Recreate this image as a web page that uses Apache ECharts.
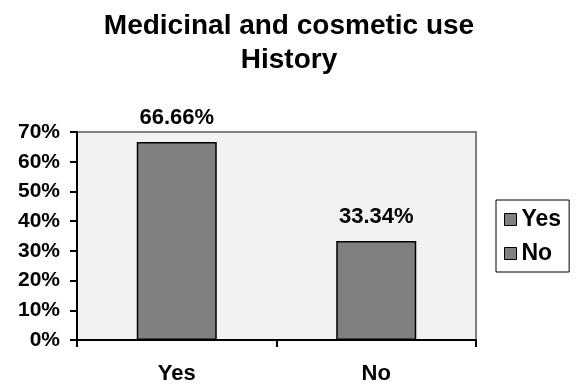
<!DOCTYPE html>
<html>
<head>
<meta charset="utf-8">
<script src="https://cdn.jsdelivr.net/npm/echarts@6/dist/echarts.min.js"></script>
<style>
  html, body { margin: 0; padding: 0; background: #ffffff; }
  #chart { width: 578px; height: 385px; }
</style>
</head>
<body>
<div id="chart"></div>
<script>
// Survey answers and their shares (percent)
const categories = ['Yes', 'No'];
const shares = [66.66, 33.34];
const chartTitle = 'Medicinal and cosmetic use\nHistory';

// Percent axis range
const yMin = 0;
const yMax = 70;
const yStep = 10;

const FONT = '"Liberation Sans", Arial, sans-serif';
const BAR_GRAY = '#808080';

// One series per answer so the legend lists each answer; they share a slot per category
const series = categories.map((name, i) => ({
  name: name,
  type: 'bar',
  barWidth: 80,
  barGap: '-100%',
  data: categories.map((c, j) => (j === i ? shares[j] : '-')),
  itemStyle: { color: BAR_GRAY, borderColor: '#000000', borderWidth: 1.5 },
  label: {
    show: true,
    position: 'top',
    distance: 13,
    color: '#000000',
    fontFamily: FONT,
    fontWeight: 'bold',
    fontSize: 22,
    formatter: p => p.value.toFixed(2) + '%'
  }
}));

const chart = echarts.init(document.getElementById('chart'), null, { renderer: 'canvas' });
chart.setOption({
  animation: false,
  backgroundColor: '#ffffff',
  title: {
    text: chartTitle,
    left: 'center',
    top: 4,
    textStyle: {
      fontFamily: FONT,
      fontWeight: 'bold',
      fontSize: 28,
      lineHeight: 34,
      color: '#000000',
      align: 'center'
    }
  },
  legend: {
    data: categories,
    orient: 'vertical',
    left: 496,
    top: 200,
    padding: [8, 8, 7, 8],
    itemGap: 11,
    itemWidth: 12,
    itemHeight: 12,
    icon: 'rect',
    borderColor: '#000000',
    borderWidth: 1,
    itemStyle: { borderColor: '#000000', borderWidth: 1 },
    textStyle: {
      fontFamily: FONT,
      fontWeight: 'bold',
      fontSize: 23,
      color: '#000000'
    }
  },
  grid: {
    left: 77,
    right: 102,
    top: 132,
    bottom: 45,
    show: true,
    backgroundColor: '#f2f2f2',
    borderColor: '#808080',
    borderWidth: 2
  },
  xAxis: {
    type: 'category',
    data: categories,
    axisLine: { lineStyle: { color: '#000000', width: 2 } },
    axisTick: { show: true, length: 7, lineStyle: { color: '#000000', width: 2 } },
    axisLabel: {
      margin: 23,
      color: '#000000',
      fontFamily: FONT,
      fontWeight: 'bold',
      fontSize: 22
    }
  },
  yAxis: {
    type: 'value',
    min: yMin,
    max: yMax,
    interval: yStep,
    splitLine: { show: false },
    axisLine: { show: true, lineStyle: { color: '#000000', width: 2 } },
    axisTick: { show: true, length: 7, lineStyle: { color: '#000000', width: 2 } },
    axisLabel: {
      margin: 17,
      color: '#000000',
      fontFamily: FONT,
      fontWeight: 'bold',
      fontSize: 21,
      formatter: v => v + '%'
    }
  },
  series: series
});
</script>
</body>
</html>
